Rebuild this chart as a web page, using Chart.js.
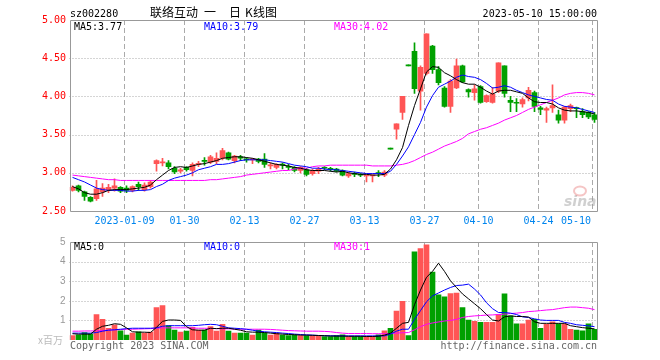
<!DOCTYPE html>
<html>
<head>
<meta charset="utf-8">
<script src="https://cdn.jsdelivr.net/npm/chart.js@4"></script>
<style>
  body { margin: 0; background: #fff; }
  #wrap { position: relative; width: 660px; height: 360px; }
  canvas { position: absolute; left: 0; }
  #kChart { top: 0; }
  #volChart { top: 232px; }
</style>
</head>
<body>
<div id="wrap">
  <canvas id="kChart" width="660" height="232"></canvas>
  <canvas id="volChart" width="660" height="128"></canvas>
</div>
<script>
// Data

const dates = [
  '2022-12-26','2022-12-27','2022-12-28','2022-12-29','2022-12-30',
  '2023-01-03','2023-01-04','2023-01-05','2023-01-06','2023-01-09',
  '2023-01-10','2023-01-11','2023-01-12','2023-01-13','2023-01-16',
  '2023-01-17','2023-01-18','2023-01-19','2023-01-20','2023-01-30',
  '2023-01-31','2023-02-01','2023-02-02','2023-02-03','2023-02-06',
  '2023-02-07','2023-02-08','2023-02-09','2023-02-10','2023-02-13',
  '2023-02-14','2023-02-15','2023-02-16','2023-02-17','2023-02-20',
  '2023-02-21','2023-02-22','2023-02-23','2023-02-24','2023-02-27',
  '2023-02-28','2023-03-01','2023-03-02','2023-03-03','2023-03-06',
  '2023-03-07','2023-03-08','2023-03-09','2023-03-10','2023-03-13',
  '2023-03-14','2023-03-15','2023-03-16','2023-03-17','2023-03-20',
  '2023-03-21','2023-03-22','2023-03-23','2023-03-24','2023-03-27',
  '2023-03-28','2023-03-29','2023-03-30','2023-03-31','2023-04-03',
  '2023-04-04','2023-04-06','2023-04-07','2023-04-10','2023-04-11',
  '2023-04-12','2023-04-13','2023-04-14','2023-04-17','2023-04-18',
  '2023-04-19','2023-04-20','2023-04-21','2023-04-24','2023-04-25',
  '2023-04-26','2023-04-27','2023-04-28','2023-05-04','2023-05-05',
  '2023-05-08','2023-05-09','2023-05-10'
];

const tickDates = ['2023-01-09','2023-01-30','2023-02-13','2023-02-27','2023-03-13',
                   '2023-03-27','2023-04-10','2023-04-24','2023-05-10'];

const open = [2.77,2.83,2.75,2.68,2.66,2.75,2.78,2.80,2.81,2.80,
  2.77,2.85,2.78,2.82,3.12,3.13,3.13,3.06,3.02,3.07,
  3.03,3.11,3.16,3.14,3.15,3.19,3.26,3.16,3.21,3.18,
  3.17,3.18,3.18,3.09,3.07,3.11,3.08,3.07,3.03,3.04,
  2.99,3.02,3.07,3.06,3.05,3.03,2.96,2.99,2.98,2.96,
  2.96,3.00,2.97,3.31,3.57,3.79,4.40,4.59,4.07,4.30,
  4.66,4.35,4.11,3.87,4.11,4.40,4.09,4.05,4.13,3.93,
  3.92,4.07,4.40,3.95,3.92,3.90,3.98,4.05,3.85,3.82,
  3.85,3.76,3.69,3.84,3.85,3.80,3.79,3.76];

const high = [2.83,2.84,2.76,2.69,2.90,2.86,2.85,2.92,2.82,2.83,
  2.83,2.88,2.87,2.90,3.17,3.19,3.16,3.08,3.06,3.08,
  3.13,3.15,3.20,3.23,3.26,3.32,3.27,3.23,3.23,3.20,
  3.19,3.19,3.25,3.13,3.12,3.13,3.11,3.08,3.08,3.06,
  3.05,3.07,3.08,3.07,3.06,3.04,3.01,3.01,2.99,2.97,
  2.97,3.03,3.03,3.31,3.64,4.00,4.40,4.70,4.40,4.82,
  4.67,4.39,4.13,4.22,4.49,4.41,4.10,4.15,4.14,4.02,
  4.12,4.44,4.40,4.00,3.97,3.98,4.12,4.07,3.87,3.86,
  4.15,3.82,3.87,3.90,3.86,3.84,3.80,3.79];

const low = [2.76,2.75,2.64,2.62,2.64,2.69,2.74,2.76,2.74,2.74,
  2.75,2.77,2.76,2.80,3.02,3.09,3.05,2.99,3.00,3.02,
  2.96,3.08,3.10,3.12,3.12,3.17,3.17,3.13,3.16,3.14,
  3.12,3.13,3.07,3.05,3.05,3.05,3.04,3.01,3.00,2.96,
  2.97,2.99,3.04,3.02,3.01,2.96,2.94,2.95,2.95,2.88,
  2.88,2.95,2.95,3.31,3.44,3.70,4.40,4.04,3.82,4.28,
  4.30,4.15,3.86,3.79,4.10,4.18,3.99,3.95,3.91,3.92,
  3.91,4.05,3.99,3.80,3.80,3.86,3.94,3.80,3.76,3.66,
  3.79,3.65,3.65,3.80,3.72,3.72,3.71,3.66];

const close = [2.81,2.77,2.69,2.63,2.79,2.80,2.81,2.83,2.76,2.77,
  2.82,2.82,2.84,2.88,3.16,3.14,3.08,3.01,3.04,3.04,
  3.11,3.12,3.15,3.21,3.19,3.29,3.18,3.22,3.19,3.17,
  3.18,3.15,3.11,3.10,3.11,3.10,3.07,3.03,3.07,2.98,
  3.03,3.05,3.06,3.04,3.02,2.97,2.99,2.98,2.97,2.97,
  2.97,2.99,3.01,3.31,3.64,4.00,4.40,4.10,4.38,4.82,
  4.35,4.18,3.87,4.20,4.40,4.19,4.06,4.10,3.92,4.01,
  4.03,4.44,4.04,3.92,3.91,3.96,4.08,3.87,3.83,3.84,
  3.88,3.69,3.86,3.88,3.84,3.76,3.73,3.70];

const ma5 = [2.82,2.79,2.74,2.72,2.72,2.74,2.77,2.78,2.78,2.78,
  2.79,2.80,2.81,2.84,2.91,2.97,3.03,3.07,3.08,3.07,
  3.09,3.11,3.12,3.14,3.16,3.19,3.20,3.21,3.21,3.20,
  3.19,3.17,3.15,3.13,3.11,3.10,3.09,3.07,3.06,3.04,
  3.03,3.03,3.03,3.02,3.01,3.02,3.00,2.99,2.98,2.98,
  2.97,2.97,2.98,3.05,3.17,3.33,3.62,3.88,4.10,4.32,
  4.39,4.38,4.31,4.27,4.22,4.18,4.16,4.16,4.12,4.07,
  4.03,4.07,4.08,4.08,4.06,4.04,3.98,3.93,3.92,3.92,
  3.90,3.85,3.82,3.81,3.81,3.80,3.79,3.77];

const ma10 = [2.94,2.91,2.88,2.84,2.80,2.78,2.77,2.77,2.77,2.76,
  2.76,2.77,2.77,2.78,2.82,2.85,2.90,2.93,2.95,2.97,
  3.00,3.04,3.06,3.08,3.11,3.11,3.12,3.14,3.16,3.17,
  3.17,3.17,3.17,3.16,3.15,3.14,3.12,3.10,3.09,3.08,
  3.06,3.06,3.05,3.04,3.04,3.03,3.02,3.01,3.00,2.99,
  2.99,2.99,2.99,3.02,3.11,3.22,3.34,3.50,3.66,3.86,
  4.01,4.12,4.16,4.20,4.25,4.28,4.26,4.25,4.22,4.17,
  4.11,4.12,4.14,4.12,4.08,4.05,4.02,4.00,3.98,3.96,
  3.95,3.90,3.87,3.86,3.85,3.83,3.81,3.79];

const ma30 = [2.97,2.96,2.95,2.94,2.93,2.92,2.91,2.91,2.90,2.90,
  2.90,2.90,2.90,2.90,2.90,2.90,2.90,2.90,2.90,2.90,
  2.90,2.90,2.90,2.91,2.91,2.92,2.93,2.94,2.95,2.97,
  2.98,2.99,3.00,3.01,3.02,3.03,3.03,3.05,3.06,3.06,
  3.08,3.09,3.09,3.10,3.10,3.10,3.10,3.10,3.10,3.10,
  3.09,3.09,3.09,3.09,3.10,3.11,3.13,3.16,3.20,3.24,
  3.27,3.31,3.35,3.38,3.41,3.45,3.51,3.54,3.57,3.59,
  3.62,3.65,3.69,3.72,3.75,3.79,3.83,3.86,3.89,3.92,
  3.95,3.98,4.02,4.04,4.05,4.05,4.04,4.02];

// volume in millions
const volume = [0.22,0.27,0.38,0.32,1.30,1.05,0.60,0.77,0.47,0.25,
  0.35,0.42,0.35,0.40,1.65,1.75,0.73,0.50,0.40,0.45,
  0.65,0.50,0.50,0.68,0.45,0.80,0.45,0.35,0.35,0.35,
  0.25,0.50,0.35,0.25,0.35,0.25,0.22,0.25,0.22,0.22,
  0.22,0.22,0.17,0.17,0.22,0.27,0.17,0.17,0.17,0.17,
  0.17,0.27,0.47,0.60,1.47,1.97,0.22,4.50,4.67,4.85,
  3.47,2.30,2.20,2.37,2.40,1.65,1.02,0.95,0.90,0.90,
  0.90,1.30,2.35,1.23,0.83,0.83,1.02,1.05,0.60,0.80,
  0.93,0.83,0.83,0.55,0.50,0.47,0.83,0.55];

const volMa5 = [0.32,0.30,0.30,0.30,0.55,0.70,0.75,0.83,0.80,0.62,
  0.42,0.40,0.40,0.38,0.65,0.95,1.02,1.02,1.00,0.68,
  0.52,0.50,0.50,0.60,0.58,0.60,0.60,0.55,0.50,0.42,
  0.40,0.40,0.38,0.35,0.32,0.30,0.28,0.27,0.25,0.25,
  0.24,0.23,0.22,0.20,0.20,0.20,0.19,0.19,0.19,0.18,
  0.18,0.19,0.25,0.35,0.60,0.85,0.90,1.80,2.55,3.20,
  3.50,3.92,3.50,3.02,2.68,2.35,2.10,1.85,1.60,1.30,
  1.02,0.97,1.18,1.23,1.20,1.20,1.17,0.93,0.85,0.85,
  0.85,0.85,0.85,0.73,0.68,0.63,0.60,0.57];

const volMa10 = [0.35,0.35,0.35,0.35,0.38,0.45,0.50,0.52,0.55,0.58,
  0.60,0.60,0.60,0.60,0.62,0.70,0.73,0.73,0.73,0.73,
  0.73,0.75,0.78,0.80,0.78,0.70,0.62,0.60,0.58,0.55,
  0.50,0.45,0.42,0.40,0.38,0.35,0.33,0.30,0.28,0.26,
  0.25,0.23,0.22,0.22,0.21,0.21,0.21,0.21,0.21,0.21,
  0.21,0.21,0.21,0.30,0.45,0.55,0.55,1.05,1.50,1.95,
  2.25,2.40,2.55,2.68,2.78,2.80,2.85,2.60,2.30,1.90,
  1.60,1.40,1.40,1.37,1.30,1.18,1.15,1.08,1.02,1.00,
  1.00,1.00,0.90,0.85,0.78,0.75,0.72,0.68];

const volMa30 = [0.45,0.45,0.46,0.46,0.47,0.48,0.50,0.52,0.53,0.55,
  0.55,0.56,0.57,0.58,0.60,0.62,0.62,0.62,0.62,0.62,
  0.61,0.60,0.60,0.59,0.58,0.57,0.57,0.56,0.55,0.55,
  0.55,0.55,0.55,0.54,0.52,0.50,0.48,0.47,0.46,0.45,
  0.45,0.45,0.44,0.42,0.38,0.35,0.33,0.33,0.33,0.33,
  0.32,0.32,0.32,0.33,0.35,0.37,0.38,0.52,0.68,0.80,
  0.87,0.92,0.97,1.00,1.05,1.15,1.20,1.23,1.25,1.27,
  1.28,1.30,1.32,1.35,1.37,1.40,1.45,1.47,1.50,1.53,
  1.55,1.60,1.65,1.68,1.68,1.65,1.62,1.55];

// Styles

const upColor = '#ff5555';
const downColor = '#00a000';
const candleColors = close.map((c, i) => c > open[i] ? upColor : downColor);
const mono = '10px "DejaVu Sans Mono"';
const cjk = '12px "Noto Sans CJK SC"';
const last = a => a[a.length - 1];

function lineSet(data, color) {
  return {type: 'line', data: data, borderColor: color, borderWidth: 1,
          pointRadius: 0, tension: 0, order: 0};
}

function drawLine(ctx, x1, y1, x2, y2) {
  ctx.beginPath();
  ctx.moveTo(x1, y1);
  ctx.lineTo(x2, y2);
  ctx.stroke();
}

// grid, frame and texts
function makeDecor(cfg) {
  return {
    id: 'decor',
    beforeDatasetsDraw(chart) {
      const {ctx, chartArea: a, scales: {x, y}} = chart;
      const slot = x.width / dates.length;
      ctx.save();
      ctx.lineWidth = 1;
      ctx.strokeStyle = '#aaaaaa';
      ctx.setLineDash([1, 2]);
      cfg.hLines.forEach(v => {
        const py = Math.round(y.getPixelForValue(v)) + 0.5;
        drawLine(ctx, a.left, py, a.right, py);
      });
      ctx.setLineDash([5, 3]);
      tickDates.forEach(d => {
        const px = Math.ceil(x.getPixelForValue(dates.indexOf(d)) - slot / 2) + 0.5;
        drawLine(ctx, px, a.top, px, a.bottom);
      });
      ctx.restore();
      if (cfg.under) cfg.under(ctx);
    },
    afterDatasetsDraw(chart) {
      const {ctx, chartArea: a} = chart;
      const l = Math.ceil(a.left) + 0.5, r = Math.floor(a.right) + 0.5;
      const t = Math.round(a.top) + 0.5, b = Math.round(a.bottom) + 0.5;
      ctx.save();
      ctx.strokeStyle = '#999999';
      ctx.lineWidth = 1;
      ctx.beginPath();
      ctx.moveTo(l, cfg.bottomLine ? b : a.bottom);
      ctx.lineTo(l, t);
      ctx.lineTo(r, t);
      ctx.lineTo(r, cfg.bottomLine ? b : a.bottom);
      if (cfg.bottomLine) ctx.lineTo(l, b);
      ctx.stroke();
      ctx.restore();
    },
    afterDraw(chart) {
      const {ctx, chartArea: a, scales: {x}} = chart;
      ctx.save();
      cfg.texts.forEach(s => {
        ctx.font = s.f || mono;
        ctx.fillStyle = s.c;
        ctx.textAlign = s.a || 'left';
        ctx.textBaseline = s.b || 'alphabetic';
        ctx.fillText(s.t, s.x, s.y);
      });
      if (cfg.xLabels) {
        const slot = x.width / dates.length;
        ctx.font = mono;
        ctx.fillStyle = '#0085ee';
        ctx.textBaseline = 'alphabetic';
        tickDates.forEach((d, k) => {
          const txt = k === 0 ? d : d.slice(5);
          const px = Math.ceil(x.getPixelForValue(dates.indexOf(d)) - slot / 2) + 0.5;
          const w = ctx.measureText(txt).width;
          if (px + w / 2 > a.right - 6) {
            ctx.textAlign = 'right';
            ctx.fillText(txt, a.right - 6.5, 224);
          } else {
            ctx.textAlign = 'center';
            ctx.fillText(txt, px, 224);
          }
        });
      }
      ctx.restore();
    }
  };
}

function sinaMark(ctx) {
  ctx.save();
  ctx.font = 'italic bold 14px "DejaVu Sans"';
  ctx.fillStyle = 'rgba(150,150,150,0.45)';
  ctx.fillText('sina', 564, 206);
  ctx.strokeStyle = 'rgba(225,90,90,0.35)';
  ctx.lineWidth = 2;
  ctx.beginPath();
  ctx.ellipse(580, 191, 6, 4.5, 0, 0, Math.PI * 2);
  ctx.stroke();
  ctx.restore();
}

// K-line chart

const ctxK = document.getElementById('kChart').getContext('2d');
const kChart = new Chart(ctxK, {
  type: 'bar',
  data: {
    labels: dates,
    datasets: [
      lineSet(ma5, '#000000'),
      lineSet(ma10, '#0000ff'),
      lineSet(ma30, '#ff00ff'),
      {
        data: open.map((o, i) => [o, close[i]]),
        backgroundColor: candleColors,
        barThickness: 5,
        minBarLength: 1,
        grouped: false,
        order: 1
      },
      {
        data: low.map((l, i) => [l, high[i]]),
        backgroundColor: candleColors,
        barThickness: 1,
        minBarLength: 1,
        grouped: false,
        order: 2
      }
    ]
  },
  options: {
    responsive: false,
    devicePixelRatio: 1,
    animation: false,
    events: [],
    layout: { padding: { left: 0, right: 62.5, top: 20, bottom: 21 } },
    plugins: { legend: { display: false }, tooltip: { enabled: false } },
    scales: {
      x: { display: false, offset: true },
      y: {
        min: 2.5,
        max: 5,
        afterFit: s => { s.width = 69.5; },
        grid: { display: false, drawTicks: false },
        border: { display: false },
        ticks: {
          stepSize: 0.5,
          padding: 3.5,
          color: '#ff0000',
          font: { family: 'DejaVu Sans Mono', size: 10 },
          callback: v => v.toFixed(2)
        }
      }
    }
  },
  plugins: [makeDecor({
    hLines: [3.0, 3.5, 4.0, 4.5],
    bottomLine: true,
    xLabels: true,
    under: sinaMark,
    texts: [
      {t: 'sz002280', x: 70, y: 17, c: '#000000'},
      {t: '联络互动', x: 150, y: 12, c: '#000000', b: 'middle', f: cjk},
      {t: '一', x: 204, y: 12, c: '#000000', b: 'middle', f: cjk},
      {t: '日', x: 229, y: 12, c: '#000000', b: 'middle', f: cjk},
      {t: 'K', x: 245, y: 12, c: '#000000', b: 'middle', f: cjk},
      {t: '线图', x: 253, y: 12, c: '#000000', b: 'middle', f: cjk},
      {t: '2023-05-10 15:00:00', x: 597, y: 17, c: '#000000', a: 'right'},
      {t: 'MA5:' + last(ma5).toFixed(2), x: 74, y: 30, c: '#000000'},
      {t: 'MA10:' + last(ma10).toFixed(2), x: 204, y: 30, c: '#0000ff'},
      {t: 'MA30:' + last(ma30).toFixed(2), x: 334, y: 30, c: '#ff00ff'}
    ]
  })]
});

// Volume chart

const ctxVol = document.getElementById('volChart').getContext('2d');
const volChart = new Chart(ctxVol, {
  type: 'bar',
  data: {
    labels: dates,
    datasets: [
      lineSet(volMa5, '#000000'),
      lineSet(volMa10, '#0000ff'),
      lineSet(volMa30, '#ff00ff'),
      {
        data: volume,
        backgroundColor: candleColors,
        barThickness: 5,
        grouped: false,
        order: 1
      }
    ]
  },
  options: {
    responsive: false,
    devicePixelRatio: 1,
    animation: false,
    events: [],
    layout: { padding: { left: 0, right: 62.5, top: 8, bottom: 20 } },
    plugins: { legend: { display: false }, tooltip: { enabled: false } },
    scales: {
      x: { display: false, offset: true },
      y: {
        min: 0,
        max: 5,
        afterFit: s => { s.width = 69.5; },
        grid: { display: false, drawTicks: false },
        border: { display: false },
        ticks: {
          stepSize: 1,
          padding: 4,
          color: '#999999',
          font: { family: 'Liberation Sans', size: 10 },
          callback: v => v === 0 ? '' : v
        }
      }
    }
  },
  plugins: [makeDecor({
    hLines: [1, 2, 3, 4],
    bottomLine: false,
    xLabels: false,
    texts: [
      {t: 'MA5:' + Math.floor(last(volMa5)), x: 74, y: 18, c: '#000000'},
      {t: 'MA10:' + Math.floor(last(volMa10)), x: 204, y: 18, c: '#0000ff'},
      {t: 'MA30:' + Math.floor(last(volMa30)), x: 334, y: 18, c: '#ff00ff'},
      {t: 'x百万', x: 63, y: 112, c: '#bbbbbb', a: 'right', f: '10px "Noto Sans CJK SC"'},
      {t: 'Copyright 2023 SINA.COM', x: 70, y: 117, c: '#666666'},
      {t: 'http://finance.sina.com.cn', x: 597, y: 117, c: '#666666', a: 'right'}
    ]
  })]
});
</script>
</body>
</html>
